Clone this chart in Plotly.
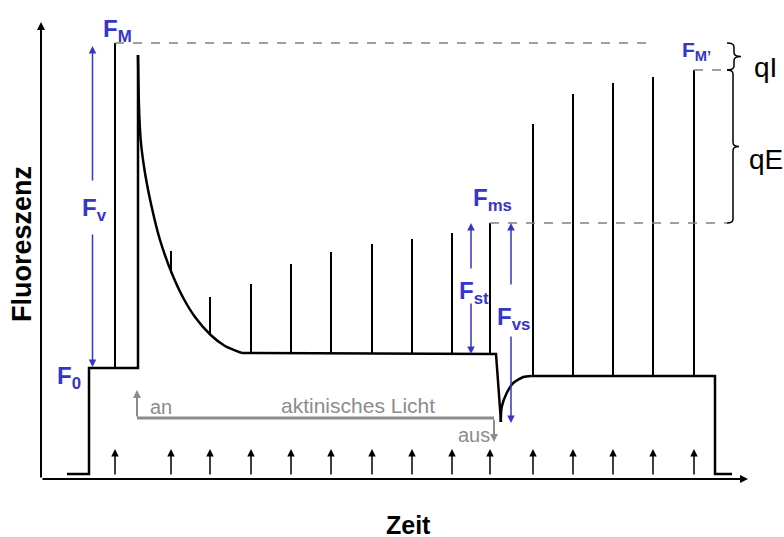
import plotly.graph_objects as go

# ---- data (time units t, fluorescence units F) ----
# baseline fluorescence trace: dark -> F0 -> light on
pre_t = [26, 48, 48, 97, 97]
pre_F = [5, 5, 111, 111, 424]
# quenching decay under actinic light (read samples)
decay_t = [97, 98, 99.7, 104, 110.7, 119, 130.7, 142.3, 154, 169.7, 184, 200.7]
decay_F = [424, 372, 339, 306, 272, 239, 206, 181, 162, 144, 133, 126]
# steady state and light off
steady_t = [200.7, 455, 460]
steady_F = [126, 125, 57]
# recovery after light off
recov_t = [459.7, 460.7, 465.7, 472.3, 482.3, 490.7]
recov_F = [57, 72, 86, 96, 102, 103]
# dark level and measuring light off
post_t = [490.7, 674, 674, 691]
post_F = [103, 103, 5, 5]

# saturating flashes
flash_t = [74, 130, 169, 210, 250, 290, 331, 371, 411, 449, 492, 532, 572, 612, 653]
flash_base = [111, 206, 144, 125, 125, 125, 125, 125, 125, 125, 103, 103, 103, 103, 103]
flash_top = [436, 228, 182, 195, 215, 227, 235, 240, 246, 256, 355, 385, 396, 402, 409]

F0, FM, Fs, Fms, FMp, Fmin = 111, 436, 125, 256, 409, 56
light_on_t, light_off_t = 96, 453

BLUE = "#3535c8"
GRAY = "#8c8c8c"
FONT = "Arial, Liberation Sans, sans-serif"

fig = go.Figure()
line = dict(color="black", width=2.5)
fig.add_trace(go.Scatter(x=pre_t, y=pre_F, mode="lines", line=line, hoverinfo="skip"))
fig.add_trace(go.Scatter(x=decay_t, y=decay_F, mode="lines", line=dict(color="black", width=2.5, shape="spline", smoothing=0.6), hoverinfo="skip"))
fig.add_trace(go.Scatter(x=steady_t, y=steady_F, mode="lines", line=line, hoverinfo="skip"))
fig.add_trace(go.Scatter(x=recov_t, y=recov_F, mode="lines", line=dict(color="black", width=2.5, shape="spline", smoothing=0.6), hoverinfo="skip"))
fig.add_trace(go.Scatter(x=post_t, y=post_F, mode="lines", line=line, hoverinfo="skip"))

fx, fy = [], []
for t, b, top in zip(flash_t, flash_base, flash_top):
    fx += [t, t, None]
    fy += [b, top, None]
fig.add_trace(go.Scatter(x=fx, y=fy, mode="lines", line=dict(color="black", width=2), hoverinfo="skip"))

# dashed reference lines
dash = dict(color="#808080", width=1.5, dash="dash")
fig.add_trace(go.Scatter(x=[flash_t[0], flash_t[-2]], y=[FM, FM], mode="lines", line=dash, hoverinfo="skip"))
fig.add_trace(go.Scatter(x=[flash_t[-1], 686], y=[FMp, FMp], mode="lines", line=dash, hoverinfo="skip"))
fig.add_trace(go.Scatter(x=[flash_t[9], 686], y=[Fms, Fms], mode="lines", line=dash, hoverinfo="skip"))

# actinic light bar
fig.add_trace(go.Scatter(x=[light_on_t, light_off_t], y=[61, 61], mode="lines", line=dict(color=GRAY, width=3), hoverinfo="skip"))

ann = []
def arrow(x, y, ax, ay, color, width=1.5, size=1.0, head=2):
    ann.append(dict(x=x, y=y, ax=ax, ay=ay, xref="x", yref="y", axref="x", ayref="y",
                    text="", showarrow=True, arrowhead=head, arrowsize=size,
                    arrowwidth=width, arrowcolor=color, standoff=0, startstandoff=0))

def label(x, y, text, size, color, xanchor="center", angle=0):
    ann.append(dict(x=x, y=y, xref="x", yref="y", text=text, showarrow=False,
                    font=dict(family=FONT, size=size, color=color),
                    xanchor=xanchor, yanchor="middle", textangle=angle))

# axes
arrow(0, 457, 0, 0, "black", width=2, size=0.8)
arrow(707, 0, 0, 0, "black", width=2, size=0.8)

# measuring pulses
for t in flash_t:
    arrow(t, 30, t, 3, "black", width=1.5, size=1.0)

# light on / off
arrow(light_on_t, 89, light_on_t, 61, GRAY, width=2, size=0.8)
arrow(light_off_t, 37, light_off_t, 61, GRAY, width=2, size=0.8)

# blue arrows
arrow(51.5, FM - 3, 51.5, 297, BLUE, width=1.5, size=1.0)
arrow(51.5, F0 + 1, 51.5, 246, BLUE, width=1.5, size=1.0)
arrow(430, Fms, 430, 209, BLUE, width=1.5, size=1.0)
arrow(430, Fs, 430, 177, BLUE, width=1.5, size=1.0)
arrow(470, Fms, 470, 193, BLUE, width=1.5, size=1.0)
arrow(470, Fmin, 470, 144, BLUE, width=1.5, size=1.0)

# labels
label(76, 449, "<b>F<sub>M</sub></b>", 24, BLUE)
label(28, 102, "<b>F<sub>0</sub></b>", 24, BLUE)
label(53, 270, "<b>F<sub>v</sub></b>", 24, BLUE)
label(451, 280, "<b>F<sub>ms</sub></b>", 24, BLUE)
label(433, 187, "<b>F<sub>st</sub></b>", 24, BLUE)
label(472, 161, "<b>F<sub>vs</sub></b>", 24, BLUE)
label(655, 428, "<b>F<sub>M’</sub></b>", 21, BLUE)
label(724, 412, "qI", 28, "black")
label(706, 320, "qE", 28, "black", xanchor="left")
label(120, 72, "an", 20, GRAY)
label(317, 74, "aktinisches Licht", 21, GRAY)
label(433, 44, "aus", 20, GRAY)
label(-19, 235, "<b>Fluoreszenz</b>", 27, "black", angle=-90)
label(367, -46, "<b>Zeit</b>", 25, "black")

# braces
def brace(x0, ytop, ybot, w, r=4):
    xm = x0 + w / 2
    ymid = (ytop + ybot) / 2
    return (f"M {x0},{ytop} Q {xm},{ytop} {xm},{ytop - r} L {xm},{ymid + r} "
            f"Q {xm},{ymid} {x0 + w},{ymid} Q {xm},{ymid} {xm},{ymid - r} "
            f"L {xm},{ybot + r} Q {xm},{ybot} {x0},{ybot}")

shapes = [
    dict(type="path", path=brace(686, FM, FMp, 14), xref="x", yref="y", line=dict(color="black", width=1.5)),
    dict(type="path", path=brace(686, FMp, Fms, 12), xref="x", yref="y", line=dict(color="black", width=1.5)),
]

fig.update_layout(
    width=784, height=537, autosize=False,
    margin=dict(l=0, r=0, t=0, b=0, pad=0),
    paper_bgcolor="white", plot_bgcolor="white",
    showlegend=False,
    xaxis=dict(range=[-41, 743], visible=False, fixedrange=True),
    yaxis=dict(range=[-58, 479], visible=False, fixedrange=True),
    annotations=ann, shapes=shapes,
)
fig.write_html("out.html", config={"displayModeBar": False},
               post_script="document.body.style.margin='0';document.body.style.overflow='hidden';")
